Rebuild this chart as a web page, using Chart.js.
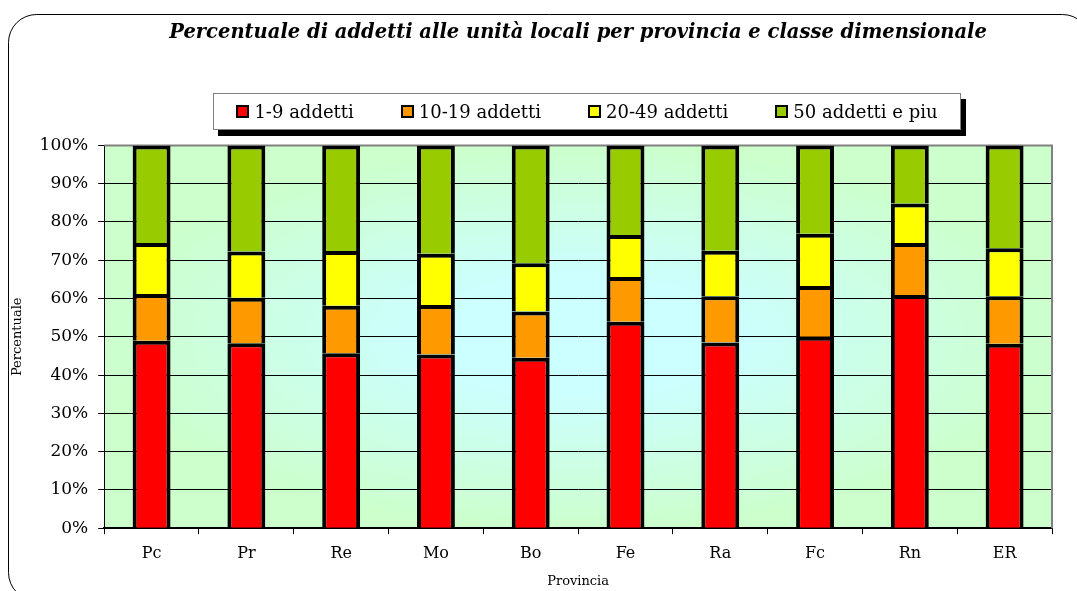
<!DOCTYPE html>
<html lang="it">
<head>
<meta charset="UTF-8">
<title>Addetti alle unità locali per provincia</title>
<script src="https://cdn.jsdelivr.net/npm/chart.js"></script>
<style>
  html, body { margin: 0; padding: 0; background: #fff; }
  #wrap { position: relative; width: 1077px; height: 591px; overflow: hidden; }
  #legenda {
    position: absolute; left: 213px; top: 93px; width: 748px; height: 37px;
    box-sizing: border-box; border: 1px solid #808080; background: #fff;
    box-shadow: 5px 6px 0 #000;
    display: flex; align-items: center; justify-content: center; gap: 47px;
    font-family: 'DejaVu Serif', serif; font-size: 18px; color: #000;
  }
  #legenda .voce { display: flex; align-items: center; white-space: nowrap; }
  #legenda .box { width: 13px; height: 13px; box-sizing: border-box; border: 2px solid #000; margin-right: 5px; }
</style>
</head>
<body>
<div id="wrap">
  <canvas id="chart" width="1077" height="591"></canvas>
  <div id="legenda"></div>
</div>
<script>
// dati (percentuali per classe dimensionale)
const province = ["Pc", "Pr", "Re", "Mo", "Bo", "Fe", "Ra", "Fc", "Rn", "ER"];
const classi = ["1-9 addetti", "10-19 addetti", "20-49 addetti", "50 addetti e piu"];
const addetti_1_9 = [49.0, 48.3, 45.7, 45.4, 44.5, 53.9, 48.5, 50.0, 60.9, 48.2];
const addetti_10_19 = [12.2, 11.9, 12.4, 12.9, 12.1, 11.7, 12.1, 13.3, 13.6, 12.4];
const addetti_20_49 = [13.3, 12.1, 14.3, 13.4, 12.6, 11.0, 11.9, 13.6, 10.3, 12.5];
const addetti_50_piu = [25.5, 27.7, 27.6, 28.3, 30.8, 23.4, 27.5, 23.1, 15.2, 26.9];
const colori = ["#FF0000", "#FF9900", "#FFFF00", "#99CC00"];
const yTicks = [0, 10, 20, 30, 40, 50, 60, 70, 80, 90, 100];

Chart.defaults.font.family = "'DejaVu Serif', serif";
Chart.defaults.color = "#000";

// cornice arrotondata, sfondo sfumato dell'area del grafico
const sfondo = {
    id: 'sfondo',
    beforeDraw(chart) {
        const ctx = chart.ctx;
        const a = chart.chartArea;
        ctx.save();
        ctx.fillStyle = '#fff';
        ctx.fillRect(0, 0, chart.width, chart.height);
        ctx.beginPath();
        ctx.roundRect(8.5, 14.5, 1082, 586, 28);
        ctx.strokeStyle = '#000';
        ctx.lineWidth = 1;
        ctx.stroke();

        ctx.translate((a.left + a.right) / 2, (a.top + a.bottom) / 2);
        ctx.scale((a.right - a.left) / 2, (a.bottom - a.top) / 2);
        const g = ctx.createRadialGradient(0, 0, 0, 0, 0, 1);
        g.addColorStop(0, '#CCFFFF');
        g.addColorStop(0.3, '#CCFFFF');
        g.addColorStop(1, '#CCFFCC');
        ctx.fillStyle = g;
        ctx.fillRect(-1, -1, 2, 2);
        ctx.restore();
    },
    beforeDatasetsDraw(chart) {
        const ctx = chart.ctx;
        const a = chart.chartArea;
        ctx.save();
        ctx.strokeStyle = '#808080';
        ctx.lineWidth = 2;
        ctx.beginPath();
        ctx.moveTo(a.left, a.top);
        ctx.lineTo(a.right, a.top);
        ctx.lineTo(a.right, a.bottom);
        ctx.stroke();
        ctx.restore();
    }
};

const serie = [addetti_1_9, addetti_10_19, addetti_20_49, addetti_50_piu];

const chart = new Chart(document.getElementById('chart'), {
    type: 'bar',
    data: {
        labels: province,
        datasets: serie.map((valori, i) => ({
            label: classi[i],
            data: valori,
            backgroundColor: colori[i],
            borderColor: '#000',
            borderWidth: 4,
            inflateAmount: 0,
            categoryPercentage: 1,
            barPercentage: 0.4
        }))
    },
    options: {
        responsive: false,
        animation: false,
        layout: { padding: { top: 10, left: 10, right: 25, bottom: 2 } },
        plugins: {
            legend: { display: false },
            tooltip: { enabled: false },
            title: {
                display: true,
                fullSize: false,
                text: 'Percentuale di addetti alle unità locali per provincia e classe dimensionale',
                font: { size: 19.5, weight: 'bold', style: 'italic' },
                padding: { top: 11, bottom: 101 }
            }
        },
        scales: {
            x: {
                stacked: true,
                grid: { offset: true, drawOnChartArea: false, tickLength: 6, color: '#000' },
                border: { color: '#000', width: 2 },
                ticks: { padding: 10, font: { size: 16 } },
                title: { display: true, text: 'Provincia', font: { size: 13 }, padding: { top: 0, bottom: 0 } }
            },
            y: {
                stacked: true,
                min: 0,
                max: 100,
                afterBuildTicks: scale => { scale.ticks = yTicks.map(v => ({ value: v })); },
                ticks: { padding: 10, font: { size: 17 }, callback: v => v + '%' },
                grid: { color: '#000', tickLength: 6 },
                border: { color: '#000', width: 1 },
                title: { display: true, text: 'Percentuale', font: { size: 13 }, padding: { top: 0, bottom: 4 } }
            }
        }
    },
    plugins: [sfondo]
});

// legenda html costruita dalle etichette di Chart.js
const legenda = document.getElementById('legenda');
Chart.defaults.plugins.legend.labels.generateLabels(chart).forEach(item => {
    const voce = document.createElement('div');
    voce.className = 'voce';
    const box = document.createElement('span');
    box.className = 'box';
    box.style.background = item.fillStyle;
    const testo = document.createElement('span');
    testo.textContent = item.text;
    voce.appendChild(box);
    voce.appendChild(testo);
    legenda.appendChild(voce);
});
</script>
</body>
</html>
